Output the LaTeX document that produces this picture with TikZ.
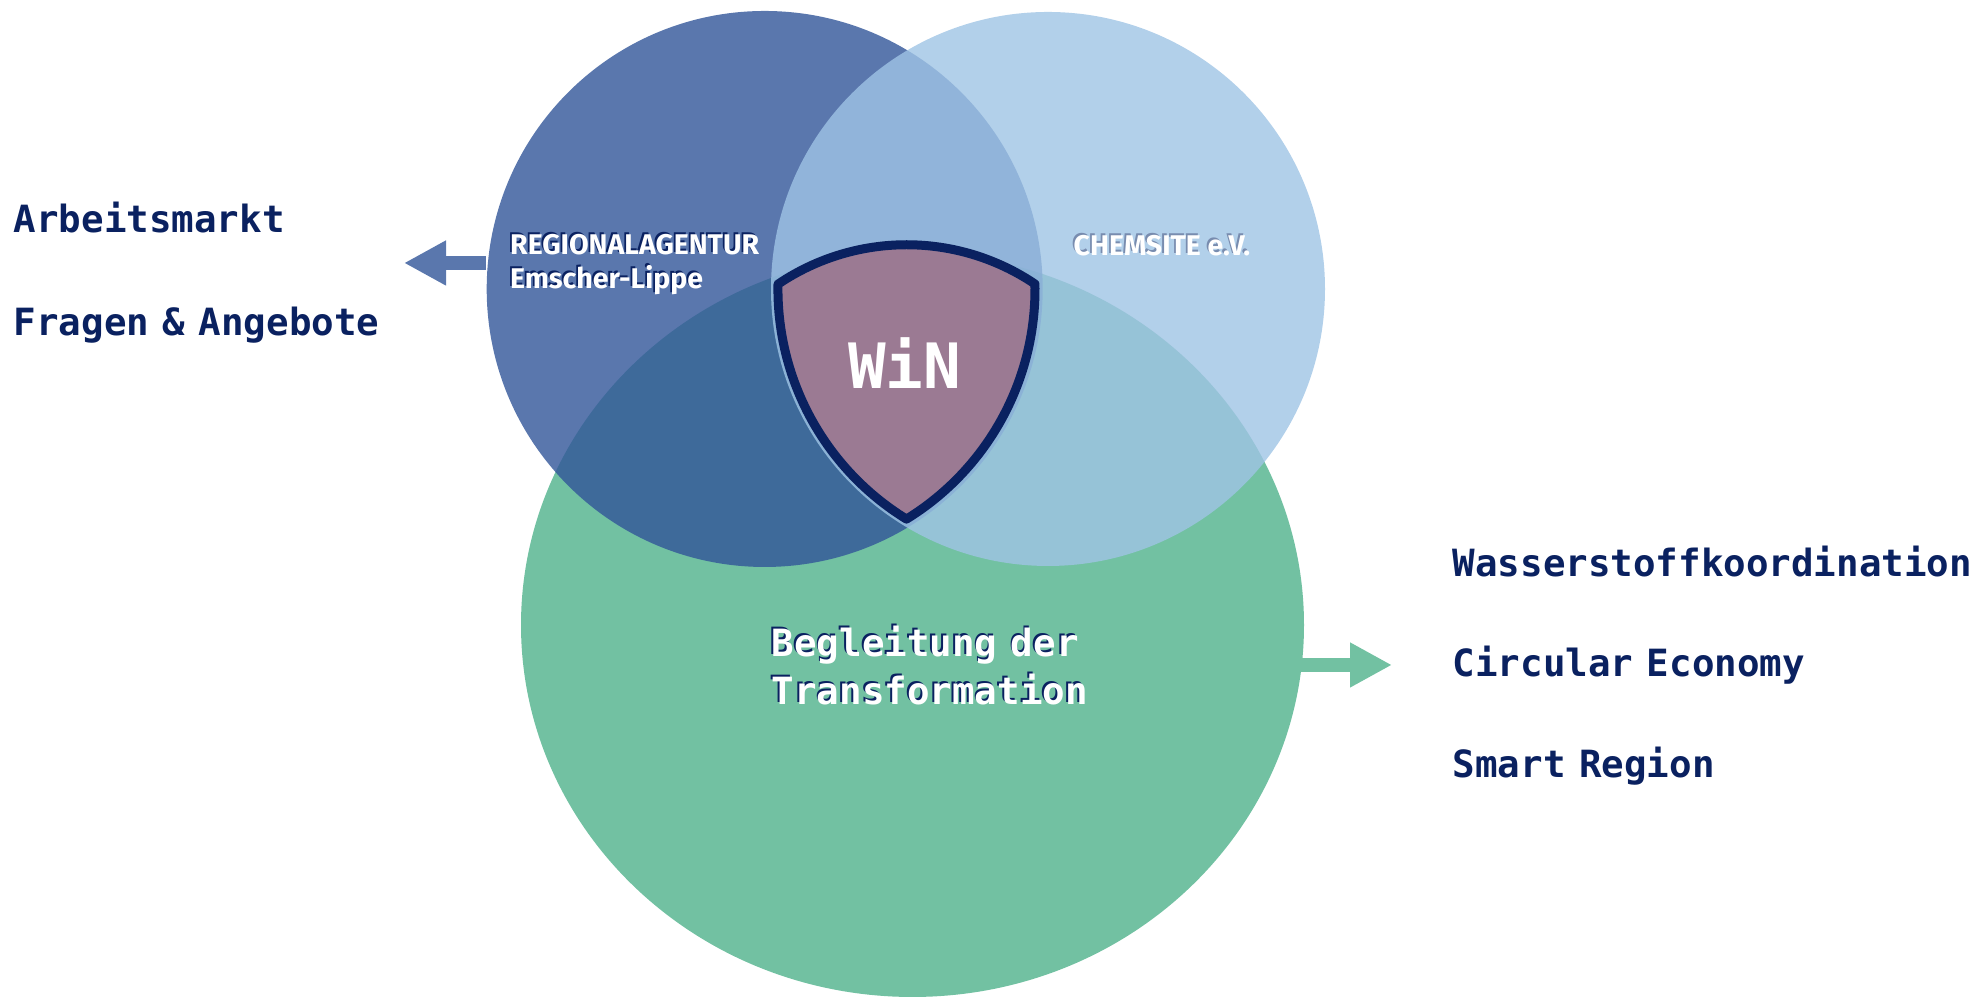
\documentclass[tikz,border=0pt]{standalone}
\usepackage{fontspec}
\setmainfont{DejaVu Sans Mono}[WordSpace=0.6]
\newfontfamily\orgfont{Fira Sans}
\usetikzlibrary{arrows.meta,shapes.geometric}

\definecolor{rlablue}{RGB}{49,85,153}
\definecolor{chemblue}{RGB}{159,196,229}
\definecolor{wingreen}{RGB}{114,193,162}
\definecolor{winmauve}{RGB}{155,122,147}
\definecolor{winnavy}{RGB}{10,33,96}
\definecolor{arrowblue}{RGB}{90,119,173}
\definecolor{haze}{RGB}{120,140,175}

% white text with a dark copy behind it
\newcommand{\shtext}[2][winnavy]{\makebox[0pt][l]{\hspace{-0.5pt}\raisebox{0.6pt}{\textcolor{#1}{#2}}}#2}

\begin{document}
\begin{tikzpicture}[
  venn/.style={circle, inner sep=0, minimum size=#1},
  topic/.style={anchor=base west, inner sep=0, text=winnavy,
    font=\fontsize{10.67}{13}\selectfont\bfseries},
  org/.style={anchor=base west, inner sep=0, align=left, text=white},
  push/.style={line width=0.14cm, -{Triangle[length=0.42cm,width=0.42cm]}}
]
\useasboundingbox (0,0) rectangle (19.82,9.97);

% the three fields, blue ones lie over the green one
\node[ellipse, inner sep=0, minimum width=7.83cm, minimum height=7.44cm,
  fill=wingreen] (trans) at (9.125,3.72) {};
\node[venn=5.56cm, fill=rlablue, fill opacity=0.8] (rla) at (7.647,7.08) {};
\node[venn=5.54cm, fill=chemblue, fill opacity=0.8] (chem) at (10.48,7.08) {};

% shield in the middle
\draw[winnavy, line width=0.09cm, fill=winmauve, line join=round]
  (7.78,7.13) arc[start angle=178.9, end angle=238.4, radius=2.70]
  arc[start angle=-58.4, end angle=1.1, radius=2.70]
  arc[start angle=56, end angle=124, radius=2.295] -- cycle;
\node[anchor=base, inner sep=0, text=white,
  font=\fontsize{17.8}{20}\selectfont\bfseries] (win) at (9.045,6.08) {WiN};

% field names (base is the last line)
\node[org, font=\fontsize{8.1}{9.67}\selectfont\orgfont\bfseries] (rlatext)
  at (5.095,7.087) {\shtext{REGIONALAGENTUR}\\\shtext{Emscher-Lippe}};
\node[org, font=\fontsize{8.1}{9.67}\selectfont\orgfont\bfseries] (chemtext)
  at (10.73,7.41) {\shtext[haze]{CHEMSITE e.V.}};
\node[org, font=\fontsize{10.67}{13.66}\selectfont\bfseries] (transtext)
  at (7.71,2.92) {\shtext{Begleitung der}\\\shtext{Transformation}};

% arrows out of the fields
\coordinate (rlapush) at (4.04,7.34);
\draw[push, arrowblue] (rla.west |- rlapush) -- (rlapush);
\coordinate (transpush) at (13.92,3.32);
\draw[push, wingreen, shorten <=-0.05cm] (trans.east |- transpush) -- (transpush);

% topics
\node[topic] (arbeit) at (0.13,7.64) {Arbeitsmarkt};
\node[topic] (fragen) at (0.13,6.61) {Fragen \& Angebote};
\node[topic] (wasser) at (14.52,4.20) {Wasserstoffkoordination};
\node[topic] (circ) at (14.52,3.20) {Circular Economy};
\node[topic] (smart) at (14.52,2.19) {Smart Region};
\end{tikzpicture}
\end{document}
